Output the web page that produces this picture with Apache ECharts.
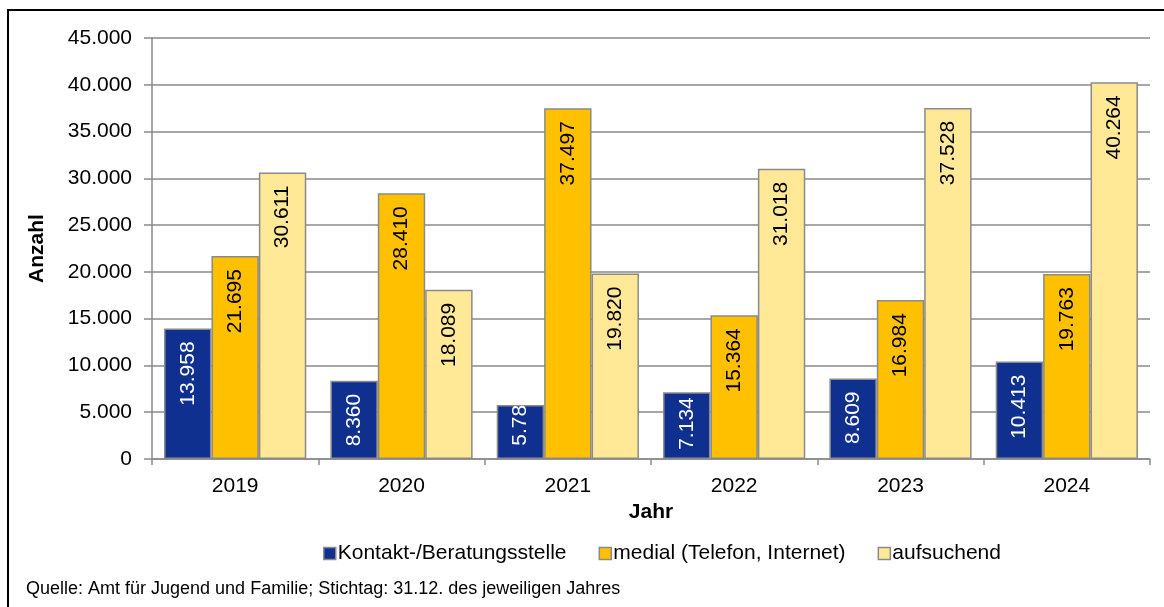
<!DOCTYPE html>
<html><head><meta charset="utf-8">
<script src="https://cdn.jsdelivr.net/npm/echarts@6/dist/echarts.min.js"></script>
<style>html,body{margin:0;padding:0;background:#fff}#c{width:1164px;height:607px}</style>
</head><body><div id="c"></div>
<script>
const years = ['2019','2020','2021','2022','2023','2024'];
const seriesNames = ['Kontakt-/Beratungsstelle','medial (Telefon, Internet)','aufsuchend'];
const kontakt = [13958, 8360, 5783, 7134, 8609, 10413];
const medial = [21695, 28410, 37497, 15364, 16984, 19763];
const aufsuchend = [30611, 18089, 19820, 31018, 37528, 40264];
const kontaktLabelText = {2: '5.78'};
const yTicks = {min: 0, max: 45000, interval: 5000};

// label placement tweaks for short bars (style, kept out of the data)
const kontaktLabelDistance = {2: 0, 3: 5};

const fmt = v => String(v).replace(/\B(?=(\d{3})+(?!\d))/g, '.');
const colors = ['#10308F', '#FFC000', '#FFE997'];
const labelColors = ['#fff', '#000', '#000'];
const font = '"Liberation Sans", Arial, sans-serif';

function mkSeries(name, vals, idx, texts, dists) {
  texts = texts || {}; dists = dists || {};
  return {
    name, type: 'bar', barGap: '0%', barCategoryGap: '14.5%',
    itemStyle: {color: colors[idx], borderColor: '#8a8a8a', borderWidth: 1.5},
    label: {show: true, position: 'insideTop', rotate: 90, align: 'right', verticalAlign: 'middle',
      distance: 13, color: labelColors[idx], fontSize: 21, fontFamily: font,
      formatter: p => fmt(p.value)},
    data: vals.map((v, i) => {
      if (texts[i] === undefined && dists[i] === undefined) return v;
      const lbl = {};
      if (texts[i] !== undefined) lbl.formatter = texts[i];
      if (dists[i] !== undefined) lbl.distance = dists[i];
      return {value: v, label: lbl};
    })
  };
}

const chart = echarts.init(document.getElementById('c'));
chart.setOption({
  animation: false,
  textStyle: {fontFamily: font},
  grid: {left: 152, right: 14, top: 38, bottom: 148},
  legend: {top: 538, left: 318, itemWidth: 12, itemHeight: 12, itemGap: 32,
    icon: 'rect',
    itemStyle: {borderColor: '#8a8a8a', borderWidth: 1.5},
    textStyle: {fontSize: 21, color: '#000', fontFamily: font, padding: [0,0,0,-3]},
    data: seriesNames},
  xAxis: {type: 'category', data: years,
    name: 'Jahr', nameLocation: 'middle', nameGap: 43,
    nameTextStyle: {fontSize: 21, fontWeight: 'bold', color: '#000'},
    axisLine: {lineStyle: {color: '#8a8a8a', width: 1.5}},
    axisTick: {show: true, length: 6, lineStyle: {color: '#8a8a8a', width: 1.5}},
    axisLabel: {fontSize: 21, color: '#000', margin: 17}},
  yAxis: {type: 'value', min: yTicks.min, max: yTicks.max, interval: yTicks.interval,
    name: 'Anzahl', nameLocation: 'middle', nameGap: 104, nameRotate: 90,
    nameTextStyle: {fontSize: 21, fontWeight: 'bold', color: '#000'},
    axisLine: {show: true, lineStyle: {color: '#8a8a8a', width: 1.5}},
    axisTick: {show: true, length: 8, lineStyle: {color: '#8a8a8a', width: 1.5}},
    splitLine: {lineStyle: {color: '#8a8a8a', width: 1.5}},
    axisLabel: {fontSize: 21, color: '#000', margin: 20, formatter: v => fmt(v)}},
  graphic: [
    {type: 'rect', shape: {x: 8, y: 10, width: 1170, height: 610}, style: {fill: 'none', stroke: '#000', lineWidth: 2}, silent: true},
    {type: 'text', left: 26, top: 580, style: {text: 'Quelle: Amt für Jugend und Familie; Stichtag: 31.12. des jeweiligen Jahres', font: '18px ' + font, fill: '#000'}}
  ],
  series: [
    mkSeries(seriesNames[0], kontakt, 0, kontaktLabelText, kontaktLabelDistance),
    mkSeries(seriesNames[1], medial, 1),
    mkSeries(seriesNames[2], aufsuchend, 2)
  ]
});
</script></body></html>
